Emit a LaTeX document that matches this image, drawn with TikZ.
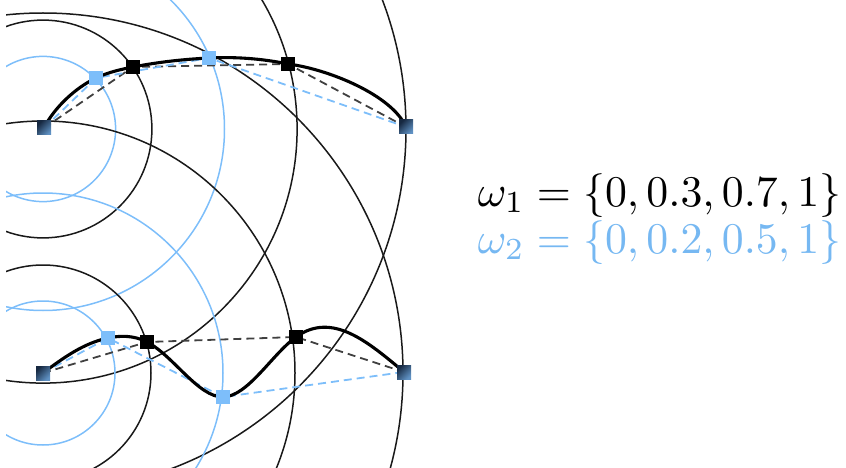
\documentclass[tikz,border=0pt]{standalone}
\begin{document}
\definecolor{lblue}{RGB}{125,190,250}
\definecolor{tblue}{RGB}{118,184,242}
\definecolor{enddark}{RGB}{22,40,64}
\definecolor{endlight}{RGB}{95,145,195}
\begin{tikzpicture}[x=1pt,y=-1pt,
  ring/.style={line width=1.5pt},
  bring/.style={ring,black!90},
  lring/.style={ring,lblue},
  polyk/.style={line width=1.8pt,black!75,dash pattern=on 8pt off 5pt},
  polyb/.style={line width=1.8pt,lblue,dash pattern=on 8pt off 5pt},
  interp/.style={line width=3.1pt,black,line cap=round,line join=round},
  sqk/.style={draw=none,fill=black,minimum size=14pt,inner sep=0pt,rectangle},
  sqb/.style={draw=none,fill=lblue,minimum size=14pt,inner sep=0pt,rectangle},
  sqe/.style={draw=none,minimum size=14pt,inner sep=0pt,rectangle,
     top color=enddark,bottom color=endlight,shading angle=45},
  lab/.style={anchor=base west,inner sep=0pt,scale=4.38}]
\useasboundingbox (0,0) rectangle (846,468);
% concentric circles
\begin{scope}
\clip (6,0) rectangle (450,468);
\draw[lring] (43,129) circle[radius=72.6];
\draw[bring] (43,129) circle[radius=108.9];
\draw[lring] (43,129) circle[radius=181.5];
\draw[bring] (43,129) circle[radius=254.1];
\draw[bring] (43,129) circle[radius=363];
\draw[lring] (43,373) circle[radius=72];
\draw[bring] (43,373) circle[radius=108];
\draw[lring] (43,373) circle[radius=180];
\draw[bring] (43,373) circle[radius=252];
\draw[bring] (43,373) circle[radius=360];
\end{scope}
% points, top
\coordinate (tA) at (44,128);
\coordinate (tb1) at (96,78);
\coordinate (tk1) at (133,67);
\coordinate (tb2) at (209,58);
\coordinate (tk2) at (288,64);
\coordinate (tB) at (406,127);
% points, bottom
\coordinate (uA) at (43,373);
\coordinate (ub1) at (108,338);
\coordinate (uk1) at (147,342);
\coordinate (ub2) at (223,397);
\coordinate (uk2) at (296,337);
\coordinate (uB) at (404,372);
% dashed polylines
\draw[polyk] (tA) -- (tk1) -- (tk2) -- (tB);
\draw[polyb] (tA) -- (tb1) -- (tb2) -- (tB);
\draw[polyk] (uA) -- (uk1) -- (uk2) -- (uB);
\draw[polyb] (uA) -- (ub1) -- (ub2) -- (uB);
% interpolating curves
\draw[interp] (tA) .. controls (54,108) and (75,88) .. (tb1)
  .. controls (107.2,72.6) and (120.2,69.5) .. (tk1)
  .. controls (158.6,62) and (183.3,59.3) .. (tb2)
  .. controls (234.7,56.7) and (261.5,58.5) .. (tk2)
  .. controls (328,69) and (392,95) .. (tB);
\draw[interp] (uA) .. controls (63.1,358.1) and (83.3,343.2) .. (ub1)
  .. controls (120.4,335.4) and (133.8,335.2) .. (uk1)
  .. controls (173.3,355.6) and (198.3,397.3) .. (ub2)
  .. controls (247.7,396.7) and (272,354.3) .. (uk2)
  .. controls (332.1,311.1) and (367.5,341.5) .. (uB);
% markers
\node[sqb] (mtb1) at (tb1) {};
\node[sqb] (mtb2) at (tb2) {};
\node[sqk] (mtk1) at (tk1) {};
\node[sqk] (mtk2) at (tk2) {};
\node[sqe] (mtA) at (tA) {};
\node[sqe] (mtB) at (tB) {};
\node[sqb] (mub1) at (ub1) {};
\node[sqb] (mub2) at (ub2) {};
\node[sqk] (muk1) at (uk1) {};
\node[sqk] (muk2) at (uk2) {};
\node[sqe] (muA) at (uA) {};
\node[sqe] (muB) at (uB) {};
% labels
\node[lab] (w1) at (477,206) {$\omega_1=\{0,0.3,0.7,1\}$};
\node[lab,text=tblue] (w2) at (477,253) {$\omega_2=\{0,0.2,0.5,1\}$};
\end{tikzpicture}
\end{document}
